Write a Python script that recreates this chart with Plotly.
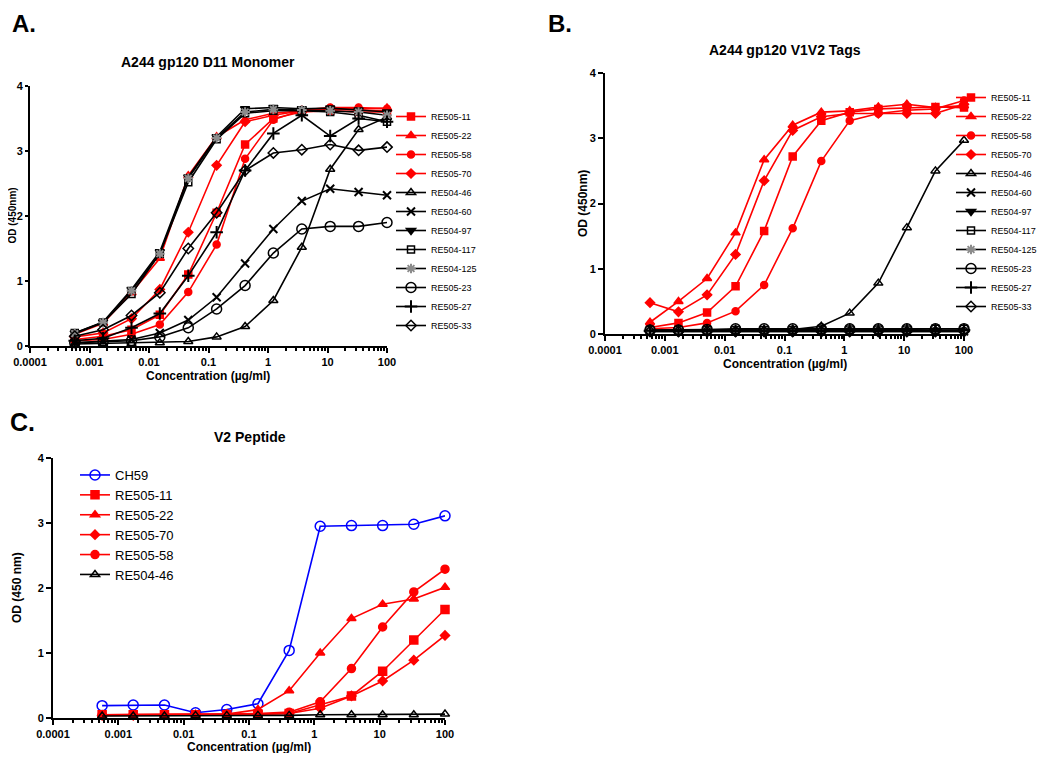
import plotly.graph_objects as go

# the page body adds an 8px margin, so the figure is drawn 16px smaller
OFF = 8
W, H = 1050 - 2 * OFF, 761 - 2 * OFF

# 3-fold dilution series (ug/ml), low -> high
conc = [0.000565, 0.00169, 0.00508, 0.0152, 0.0457, 0.137, 0.412, 1.23, 3.70, 11.1, 33.3, 100]

tick_vals = [0.0001, 0.001, 0.01, 0.1, 1, 10, 100]
tick_text = ["0.0001", "0.001", "0.01", "0.1", "1", "10", "100"]

# --- A. A244 gp120 D11 Monomer ---
a_re505_11 = [0.10, 0.15, 0.25, 0.48, 1.10, 2.05, 3.10, 3.50, 3.60, 3.62, 3.60, 3.60]
a_re505_22 = [0.18, 0.35, 0.82, 1.35, 2.62, 3.22, 3.48, 3.58, 3.62, 3.65, 3.65, 3.66]
a_re505_58 = [0.08, 0.10, 0.18, 0.33, 0.83, 1.56, 2.88, 3.48, 3.63, 3.67, 3.67, 3.65]
a_re505_70 = [0.14, 0.20, 0.42, 0.87, 1.75, 2.78, 3.45, 3.55, 3.62, 3.64, 3.63, 3.62]
a_re504_46 = [0.03, 0.04, 0.04, 0.05, 0.07, 0.14, 0.30, 0.70, 1.52, 2.72, 3.33, 3.52]
a_re504_60 = [0.05, 0.07, 0.10, 0.20, 0.40, 0.75, 1.27, 1.80, 2.23, 2.42, 2.37, 2.32]
a_re504_97 = [0.20, 0.37, 0.87, 1.45, 2.60, 3.22, 3.65, 3.67, 3.65, 3.66, 3.63, 3.60]
a_re504_117 = [0.20, 0.36, 0.80, 1.42, 2.52, 3.18, 3.58, 3.62, 3.62, 3.60, 3.55, 3.45]
a_re504_125 = [0.19, 0.36, 0.85, 1.42, 2.58, 3.20, 3.60, 3.64, 3.63, 3.62, 3.60, 3.55]
a_re505_23 = [0.05, 0.06, 0.08, 0.14, 0.28, 0.57, 0.93, 1.43, 1.80, 1.84, 1.84, 1.90]
a_re505_27 = [0.08, 0.12, 0.28, 0.50, 1.08, 1.75, 2.70, 3.27, 3.55, 3.23, 3.50, 3.45]
a_re505_33 = [0.15, 0.25, 0.47, 0.82, 1.50, 2.05, 2.70, 2.97, 3.02, 3.10, 3.01, 3.06]

# --- B. A244 gp120 V1V2 Tags ---
b_re505_11 = [0.10, 0.17, 0.33, 0.73, 1.58, 2.72, 3.27, 3.40, 3.45, 3.47, 3.48, 3.47]
b_re505_22 = [0.18, 0.50, 0.85, 1.55, 2.67, 3.20, 3.40, 3.42, 3.48, 3.52, 3.47, 3.50]
b_re505_58 = [0.08, 0.10, 0.17, 0.35, 0.75, 1.62, 2.65, 3.27, 3.38, 3.43, 3.45, 3.58]
b_re505_70 = [0.48, 0.34, 0.60, 1.22, 2.35, 3.12, 3.33, 3.38, 3.38, 3.38, 3.38, 3.52]
b_re504_46 = [0.05, 0.05, 0.05, 0.06, 0.06, 0.07, 0.12, 0.32, 0.78, 1.63, 2.50, 2.97]
b_re504_60 = [0.04, 0.04, 0.04, 0.04, 0.04, 0.04, 0.04, 0.04, 0.04, 0.04, 0.04, 0.04]
b_re504_97 = [0.05, 0.05, 0.05, 0.05, 0.05, 0.05, 0.05, 0.05, 0.05, 0.05, 0.05, 0.05]
b_re504_117 = [0.06, 0.06, 0.06, 0.06, 0.06, 0.06, 0.06, 0.07, 0.07, 0.07, 0.08, 0.08]
b_re504_125 = [0.05, 0.05, 0.05, 0.05, 0.05, 0.05, 0.05, 0.05, 0.05, 0.05, 0.05, 0.05]
b_re505_23 = [0.06, 0.06, 0.07, 0.08, 0.08, 0.08, 0.08, 0.08, 0.08, 0.08, 0.08, 0.08]
b_re505_27 = [0.05, 0.05, 0.05, 0.05, 0.05, 0.05, 0.05, 0.06, 0.06, 0.06, 0.06, 0.06]
b_re505_33 = [0.04, 0.04, 0.04, 0.04, 0.04, 0.04, 0.04, 0.04, 0.04, 0.04, 0.04, 0.04]

# --- C. V2 Peptide ---
c_ch59 = [0.19, 0.20, 0.20, 0.08, 0.13, 0.22, 1.04, 2.95, 2.96, 2.96, 2.98, 3.11]
c_re505_11 = [0.05, 0.05, 0.05, 0.05, 0.05, 0.06, 0.07, 0.20, 0.34, 0.72, 1.20, 1.67]
c_re505_22 = [0.05, 0.05, 0.05, 0.05, 0.06, 0.13, 0.42, 1.00, 1.53, 1.75, 1.83, 2.01]
c_re505_70 = [0.04, 0.04, 0.04, 0.05, 0.05, 0.06, 0.07, 0.15, 0.34, 0.57, 0.89, 1.27]
c_re505_58 = [0.05, 0.05, 0.05, 0.05, 0.06, 0.07, 0.09, 0.25, 0.76, 1.40, 1.94, 2.29]
c_re504_46 = [0.03, 0.03, 0.03, 0.04, 0.04, 0.04, 0.04, 0.05, 0.05, 0.05, 0.05, 0.06]

RED, BLACK, BLUE, GRAY = "#ff0000", "#000000", "#0000ff", "#8c8c8c"

# name, colour, symbol, size, marker colour
ab_styles = [
    ("RE505-11", RED, "square", 7, RED),
    ("RE505-22", RED, "triangle-up", 8, RED),
    ("RE505-58", RED, "circle", 7, RED),
    ("RE505-70", RED, "diamond", 7, RED),
    ("RE504-46", BLACK, "triangle-up-open", 8, BLACK),
    ("RE504-60", BLACK, "x-thin", 8, BLACK),
    ("RE504-97", BLACK, "triangle-down", 8, BLACK),
    ("RE504-117", BLACK, "square-open", 7, BLACK),
    ("RE504-125", BLACK, "asterisk", 8, GRAY),
    ("RE505-23", BLACK, "circle-open", 10, BLACK),
    ("RE505-27", BLACK, "cross-thin", 9, BLACK),
    ("RE505-33", BLACK, "diamond-open", 8, BLACK),
]
a_values = [a_re505_11, a_re505_22, a_re505_58, a_re505_70, a_re504_46, a_re504_60,
            a_re504_97, a_re504_117, a_re504_125, a_re505_23, a_re505_27, a_re505_33]
b_values = [b_re505_11, b_re505_22, b_re505_58, b_re505_70, b_re504_46, b_re504_60,
            b_re504_97, b_re504_117, b_re504_125, b_re505_23, b_re505_27, b_re505_33]

c_styles = [
    ("CH59", BLUE, "circle-open", 10, BLUE),
    ("RE505-11", RED, "square", 8, RED),
    ("RE505-22", RED, "triangle-up", 8, RED),
    ("RE505-70", RED, "diamond", 7, RED),
    ("RE505-58", RED, "circle", 8, RED),
    ("RE504-46", BLACK, "triangle-up-open", 8, BLACK),
]
c_values = [c_ch59, c_re505_11, c_re505_22, c_re505_70, c_re505_58, c_re504_46]


# screen pixel -> paper fraction
def px_x(p):
    return (p - OFF) / W


def px_y(p):
    return 1 - (p - OFF) / H


fig = go.Figure()


def add_series(styles, values, xa, ya, legend):
    for (name, col, sym, size, mcol), vals in zip(styles, values):
        thin = sym in ("x-thin", "cross-thin", "asterisk")
        fig.add_trace(go.Scatter(
            x=conc, y=vals, name=name, mode="lines+markers",
            xaxis=xa, yaxis=ya, legend=legend,
            line=dict(color=col, width=1.6),
            marker=dict(symbol=sym, size=size, color=mcol,
                        line=dict(color=mcol, width=2 if thin else 1.5)),
            cliponaxis=False,
        ))


add_series(ab_styles, a_values, "x", "y", "legend")
add_series(ab_styles, b_values, "x2", "y2", "legend2")
add_series(c_styles, c_values, "x3", "y3", "legend3")

minor_vals = [m * 10 ** e for e in range(-4, 2) for m in range(2, 10)]

axis_font = dict(family="Liberation Sans, Arial", size=11, color="black", weight="bold")


def xaxis(x0, x1, anchor):
    return dict(type="log", range=[-4, 2], domain=[px_x(x0), px_x(x1)], anchor=anchor,
                automargin=False,
                showline=True, linecolor="black", linewidth=2, showgrid=False, zeroline=False,
                ticks="outside", ticklen=5, tickwidth=2, tickcolor="black",
                tickvals=tick_vals, ticktext=tick_text, tickfont=axis_font,
                minor=dict(tickvals=minor_vals, ticks="outside", ticklen=3, tickwidth=1.5,
                           tickcolor="black", showgrid=False))


def yaxis(y_top, y_bot, anchor, ticklen=5):
    return dict(range=[0, 4], domain=[px_y(y_bot), px_y(y_top)], anchor=anchor,
                automargin=False,
                showline=True, linecolor="black", linewidth=2, showgrid=False, zeroline=False,
                ticks="outside", ticklen=ticklen, tickwidth=2, tickcolor="black",
                tickvals=[0, 1, 2, 3, 4], tickfont=axis_font)


bold = dict(family="Liberation Sans, Arial", color="black", weight="bold")
annotations = []


def label(text, x, y, size, angle=0, yanchor="middle"):
    annotations.append(dict(text=text, x=px_x(x), y=px_y(y), xref="paper", yref="paper",
                            showarrow=False, xanchor="center", yanchor=yanchor,
                            textangle=angle, font=dict(bold, size=size)))


# panel letters (top ones pinned to the top edge of the figure)
label("A.", 24, OFF, 24, yanchor="top")
label("B.", 560, OFF, 24, yanchor="top")
label("C.", 22, 422, 25)
# titles
label("A244 gp120 D11 Monomer", 208, 62, 14)
label("A244 gp120 V1V2 Tags", 785, 50, 14)
label("V2 Peptide", 250, 437, 14)
# axis titles
label("OD (450nm)", 12.5, 216, 10, -90)
label("Concentration (µg/ml)", 208, 376, 12)
label("OD (450nm)", 583, 204, 12, -90)
label("Concentration (µg/ml)", 785, 364, 12)
label("OD (450 nm)", 17, 588, 12, -90)
label("Concentration (µg/ml)", 249, 747, 12)

small_leg = dict(family="Liberation Sans, Arial", size=9, color="black")

fig.update_layout(
    width=W, height=H,
    template="plotly_white",
    plot_bgcolor="white", paper_bgcolor="white",
    margin=dict(l=0, r=0, t=0, b=0, autoexpand=False),
    xaxis=xaxis(30, 387, "y"),
    yaxis=yaxis(86, 346, "x", ticklen=3),
    xaxis2=xaxis(605, 964, "y2"),
    yaxis2=yaxis(73, 334, "x2"),
    xaxis3=xaxis(53, 445, "y3"),
    yaxis3=yaxis(458, 718, "x3"),
    annotations=annotations,
    legend=dict(x=px_x(391), y=px_y(102), xanchor="left", yanchor="top",
                font=small_leg, tracegroupgap=0, bgcolor="rgba(0,0,0,0)"),
    legend2=dict(x=1.0, y=px_y(83), xanchor="right", yanchor="top",
                 font=small_leg, tracegroupgap=0, bgcolor="rgba(0,0,0,0)"),
    legend3=dict(x=px_x(75), y=px_y(460), xanchor="left", yanchor="top",
                 font=dict(family="Liberation Sans, Arial", size=13, color="black"),
                 tracegroupgap=0, bgcolor="rgba(0,0,0,0)"),
)

fig.write_html("out.html")
